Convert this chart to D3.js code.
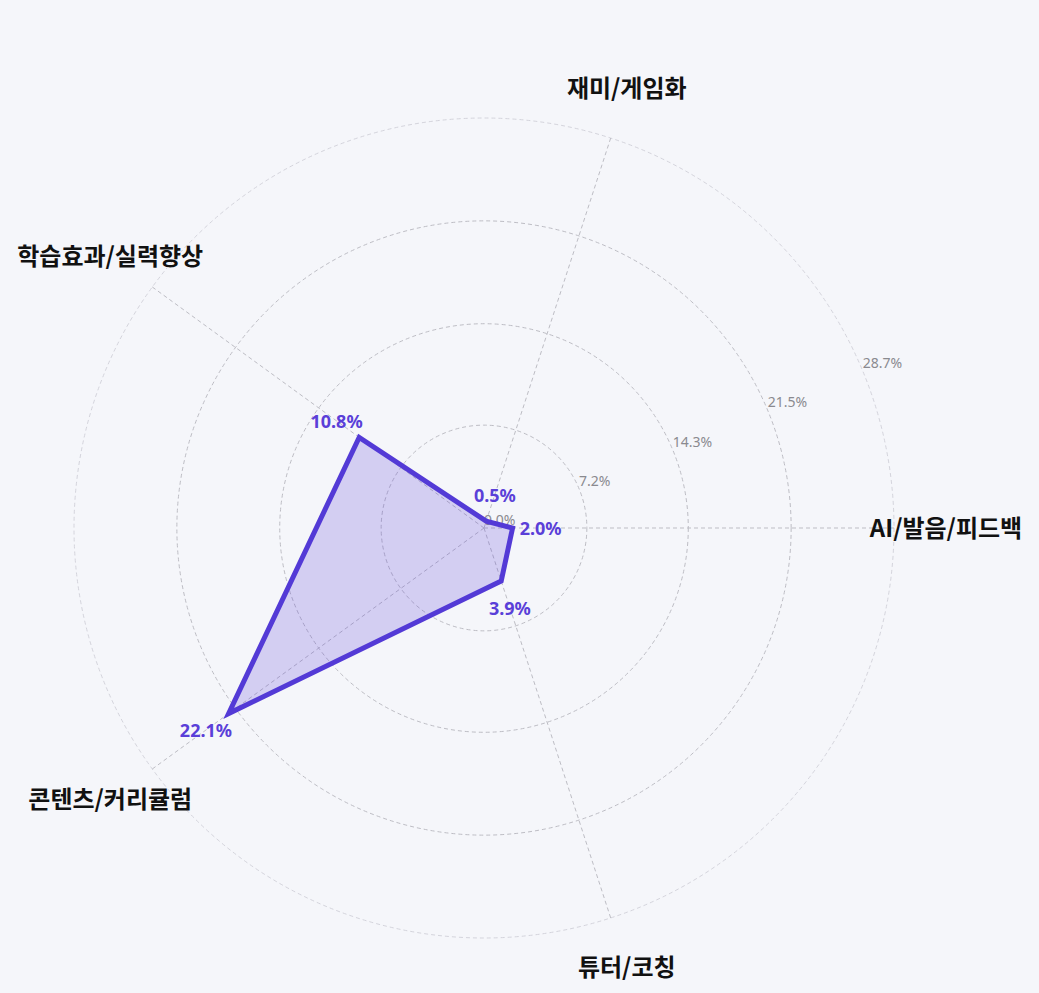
<!DOCTYPE html>
<html>
<head>
<meta charset="utf-8">
<script src="https://cdn.jsdelivr.net/npm/d3@7"></script>
<style>
  html, body { margin: 0; padding: 0; background: #f5f6fa; }
  svg { display: block; }
</style>
</head>
<body>
<svg></svg>
<script>
// axes go clockwise starting from the right
let categories = ['AI/발음/피드백', '튜터/코칭', '콘텐츠/커리큘럼', '학습효과/실력향상', '재미/게임화'];
let values = [2.0, 3.9, 22.1, 10.8, 0.5];
let ringTicks = [0, 7.2, 14.3, 21.5, 28.7];
let maxValue = 28.7;

let width = 1039;
let height = 993;
let cx = 484, cy = 528;
let radius = 410;

let svg = d3.select('svg')
    .attr('width', width)
    .attr('height', height);

let rScale = d3.scaleLinear()
    .domain([0, maxValue])
    .range([0, radius]);

let angleScale = d3.scaleBand()
    .domain(categories)
    .range([0, 2 * Math.PI]);

function angleOf(c) { return angleScale(c); }
function px(a, r) { return Math.cos(a) * r; }
function py(a, r) { return Math.sin(a) * r; }

let g = svg.append('g')
    .attr('transform', `translate(${cx}, ${cy})`);

// rings
g.selectAll('.ring')
    .data(ringTicks.filter(d => d > 0))
    .enter()
    .append('circle')
    .attr('class', 'ring')
    .attr('r', d => rScale(d))
    .attr('fill', 'none')
    .attr('stroke', (d, i, arr) => i === arr.length - 1 ? '#d4d4dc' : '#bdbdc4')
    .attr('stroke-width', 1)
    .attr('stroke-dasharray', '4,3');

// spokes
g.selectAll('.spoke')
    .data(categories)
    .enter()
    .append('line')
    .attr('class', 'spoke')
    .attr('x1', 0).attr('y1', 0)
    .attr('x2', d => px(angleOf(d), radius))
    .attr('y2', d => py(angleOf(d), radius))
    .attr('stroke', '#bdbdc4')
    .attr('stroke-width', 1)
    .attr('stroke-dasharray', '4,3');

// tick labels
let tickAngle = -Math.PI / 8;
g.selectAll('.tick-label')
    .data(ringTicks)
    .enter()
    .append('text')
    .attr('class', 'tick-label')
    .attr('x', d => px(tickAngle, rScale(d)))
    .attr('y', d => py(tickAngle, rScale(d)) - 3)
    .attr('text-anchor', 'start')
    .style('font-family', '"Noto Sans", "Open Sans", sans-serif')
    .style('font-size', '14px')
    .style('fill', '#8a8a8f')
    .text(d => d.toFixed(1) + '%');

// data polygon
let line = d3.lineRadial()
    .angle((d, i) => angleOf(categories[i]) + Math.PI / 2)
    .radius(d => rScale(d))
    .curve(d3.curveLinearClosed);

g.append('path')
    .datum(values)
    .attr('d', line)
    .attr('fill', 'rgba(90, 64, 214, 0.22)')
    .attr('stroke', '#533ad6')
    .attr('stroke-width', 5)
    .attr('stroke-linejoin', 'miter');

// value labels
g.selectAll('.value-label')
    .data(values)
    .enter()
    .append('text')
    .attr('class', 'value-label')
    .attr('x', (d, i) => px(angleOf(categories[i]), rScale(d) + 28))
    .attr('y', (d, i) => py(angleOf(categories[i]), rScale(d) + 28))
    .attr('text-anchor', 'middle')
    .attr('dominant-baseline', 'central')
    .style('font-family', '"Noto Sans", "Open Sans", sans-serif')
    .style('font-size', '18px')
    .style('font-weight', 'bold')
    .style('fill', '#5a3fd8')
    .text(d => d.toFixed(1) + '%');

// axis labels
g.selectAll('.axis-label')
    .data(categories)
    .enter()
    .append('text')
    .attr('class', 'axis-label')
    .attr('x', d => px(angleOf(d), 462))
    .attr('y', d => py(angleOf(d), 462) - 2)
    .attr('text-anchor', 'middle')
    .attr('dominant-baseline', 'central')
    .style('font-family', '"Noto Sans CJK KR", sans-serif')
    .style('font-size', '24px')
    .style('font-weight', 'bold')
    .style('fill', '#111')
    .text(d => d);
</script>
</body>
</html>
